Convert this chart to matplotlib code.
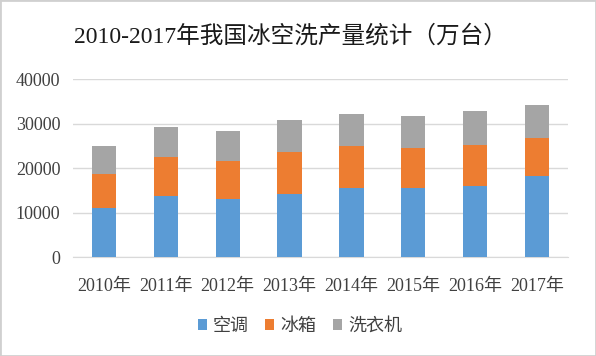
import numpy as np
import matplotlib
matplotlib.use('Agg')
import matplotlib.pyplot as plt
from matplotlib.patches import Rectangle

years = ['2010年', '2011年', '2012年', '2013年', '2014年', '2015年', '2016年', '2017年']
ac = [11100, 13800, 13100, 14200, 15600, 15600, 16050, 18200]       # 空调
fridge = [7600, 8800, 8600, 9400, 9400, 9000, 9250, 8600]          # 冰箱
washer = [6250, 6600, 6600, 7100, 7100, 7200, 7500, 7400]          # 洗衣机
names = ['空调', '冰箱', '洗衣机']

serif = ['Liberation Serif', 'Noto Sans CJK SC']
plt.rcParams['font.family'] = ['Noto Sans CJK SC', 'DejaVu Sans']

fig = plt.figure(figsize=(5.96, 3.56), dpi=100)
ax = fig.add_axes([73/596, 1-257.3/356, 495/596, (257.3-79)/356])

x = np.arange(len(years))
w = 0.39
ac = np.array(ac); fridge = np.array(fridge); washer = np.array(washer)
ax.bar(x, ac, w, color='#5B9BD5', label=names[0], zorder=3)
ax.bar(x, fridge, w, bottom=ac, color='#ED7D31', label=names[1], zorder=3)
ax.bar(x, washer, w, bottom=ac + fridge, color='#A5A5A5', label=names[2], zorder=3)

ax.set_xlim(-0.5, len(years) - 0.5)
ax.set_ylim(0, 40000)
ax.set_yticks(range(0, 40001, 10000))
ax.yaxis.grid(True, color='#D9D9D9', linewidth=1, zorder=0)
for s in ['top', 'right', 'left']:
    ax.spines[s].set_visible(False)
ax.spines['bottom'].set_color('#D9D9D9')
ax.tick_params(length=0, colors='#404040')
ax.tick_params(axis='y', pad=9)
ax.tick_params(axis='x', pad=15)
ax.set_xticks(x)
ax.set_xticklabels(years, fontsize=13, family=serif)
for lbl in ax.get_yticklabels():
    lbl.set_fontsize(13)
    lbl.set_family(serif)

fig.text(290/596, 1-36/356, '2010-2017年我国冰空洗产量统计（万台）', ha='center', va='center',
         fontsize=17, family=serif, color='#1a1a1a')

ax.legend(loc='center', bbox_to_anchor=((300-73)/495, (257.3-326)/(257.3-79)), ncol=3, frameon=False,
          fontsize=13, handlelength=0.5, handleheight=0.5, handletextpad=0.35, columnspacing=0.9,
          labelcolor='#404040')

fig.patches.append(Rectangle((0, 0), 1, 1, transform=fig.transFigure, fill=False,
                             edgecolor='#D0D0D0', linewidth=2))

fig.savefig('out.png', dpi=100)
